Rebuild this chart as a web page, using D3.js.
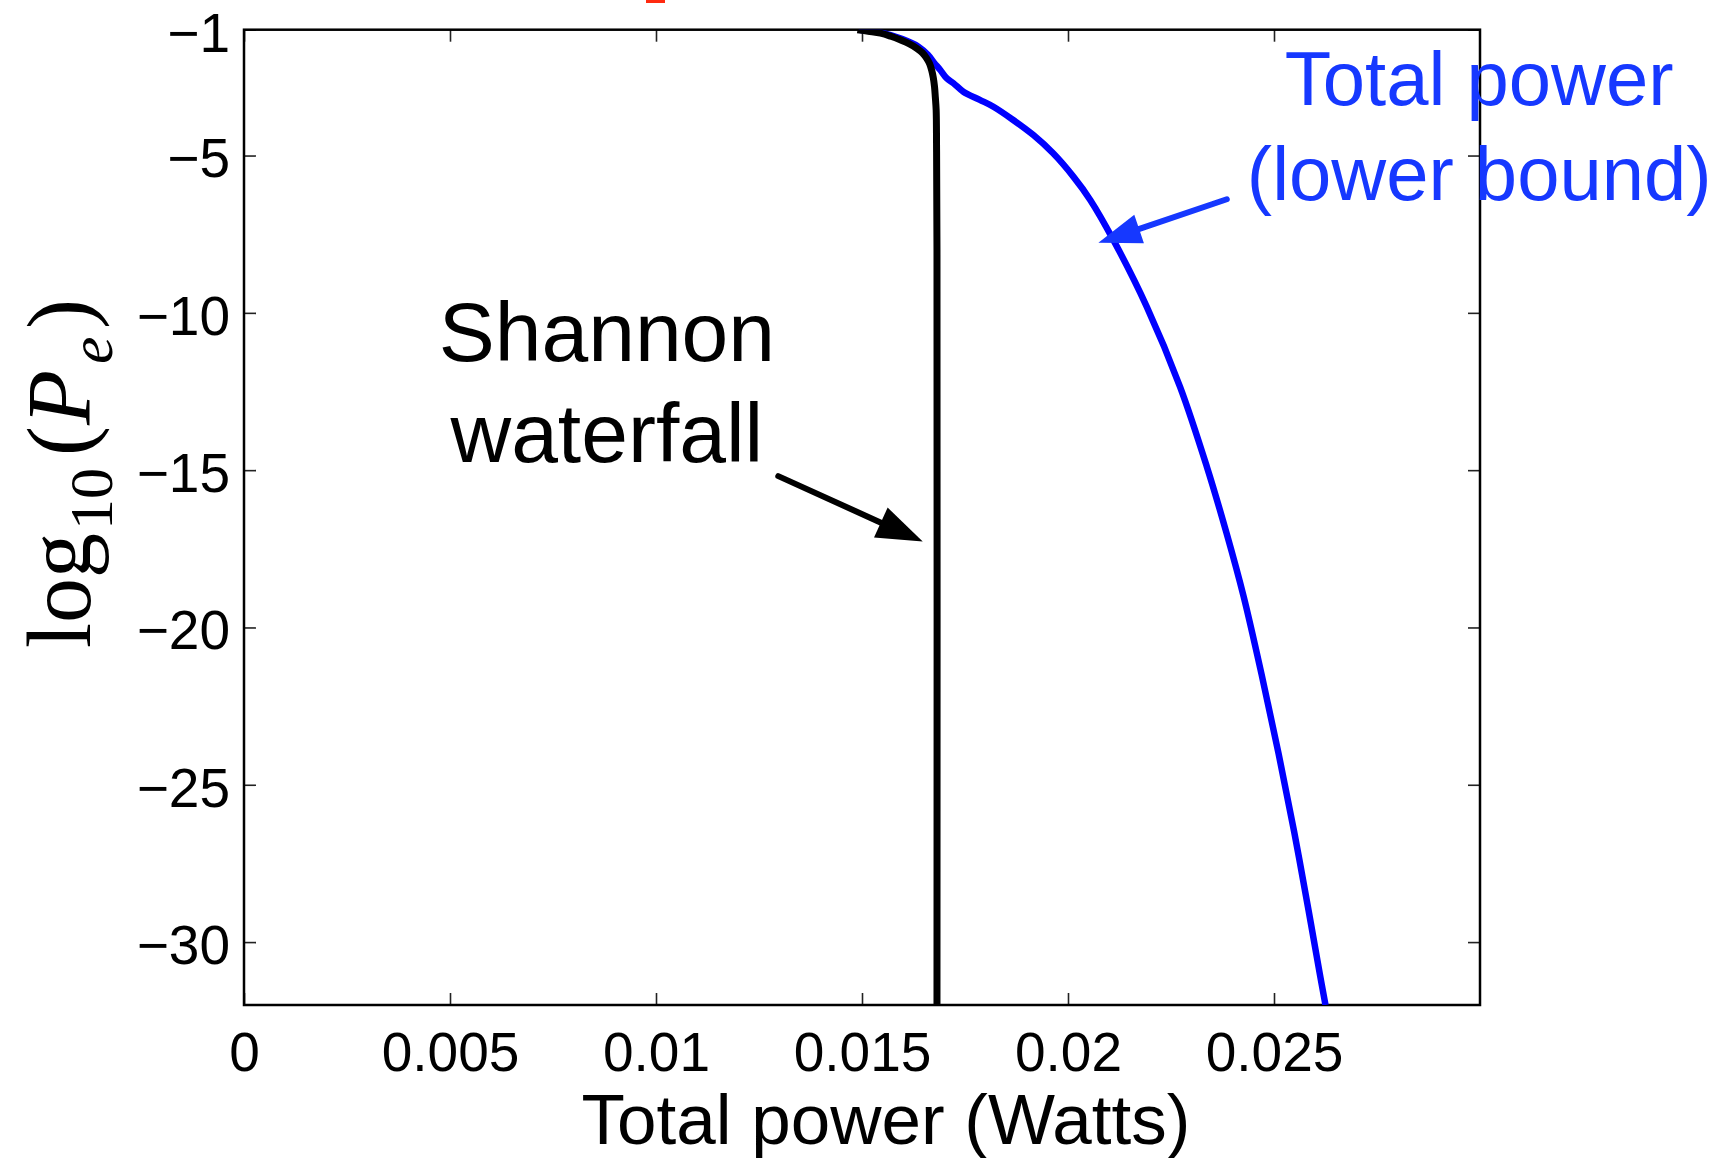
<!DOCTYPE html>
<html>
<head>
<meta charset="utf-8">
<script src="https://cdn.jsdelivr.net/npm/d3@7/dist/d3.min.js"></script>
<style>
  html, body { margin: 0; padding: 0; background: #fff; }
  svg { display: block; }
</style>
</head>
<body>
<svg id="chart" width="1724" height="1158"></svg>
<script>
// Shannon waterfall curve: total power (W) vs log10 of error probability
const shannonPower = [0.01489, 0.01515, 0.01545, 0.01570, 0.01594, 0.01615, 0.01633, 0.01647, 0.01657,
                      0.01664, 0.01669, 0.01673, 0.01676, 0.01678, 0.01680, 0.01681, 0.01682, 0.01682];
const shannonLogPe = [-1.00, -1.05, -1.11, -1.21, -1.33, -1.45, -1.59, -1.74, -1.91,
                      -2.08, -2.28, -2.52, -2.81, -3.15, -3.55, -4.82, -8.0, -32.0];

// Lower bound on total power
const boundPower = [0.01492, 0.01550, 0.01598, 0.01637, 0.01660, 0.01675, 0.01690, 0.01706, 0.01722,
                    0.01746, 0.01786, 0.01819, 0.01867, 0.01916, 0.01964, 0.02013, 0.02054, 0.02110,
                    0.02191, 0.02272, 0.02337, 0.02385, 0.02426, 0.02470, 0.02511, 0.02549, 0.02584,
                    0.02611, 0.02625];
const boundLogPe = [-1.00, -1.10, -1.30, -1.54, -1.80, -2.05, -2.28, -2.55, -2.70,
                    -2.97, -3.23, -3.45, -3.87, -4.35, -4.93, -5.67, -6.41, -7.68,
                    -9.80, -12.35, -14.89, -17.01, -19.0, -21.5, -24.0, -26.5, -29.0,
                    -31.0, -32.0];

// Axis ticks
const xTicks = [0, 0.005, 0.01, 0.015, 0.02, 0.025];
const xTickLabels = ["0", "0.005", "0.01", "0.015", "0.02", "0.025"];
const yTicks = [-1, -5, -10, -15, -20, -25, -30];
const yTickLabels = ["\u22121", "\u22125", "\u221210", "\u221215", "\u221220", "\u221225", "\u221230"];

// Annotations (in data coordinates)
const shannonLabel = ["Shannon", "waterfall"];
const shannonLabelAt = [[0.008808, -11.53], [0.008808, -14.74]];
const shannonArrow = [[0.012968, -15.19], [0.016474, -17.27]];
const boundLabel = ["Total power", "(lower bound)"];
const boundLabelAt = [[0.02998, -3.40], [0.02998, -6.42]];
const boundArrow = [[0.023854, -6.39], [0.020737, -7.77]];

const svg = d3.select("#chart");
const plot = { left: 244, right: 1480, top: 29.7, bottom: 1005 };

const x = d3.scaleLinear().domain([0, 0.03]).range([plot.left, plot.right]);
const y = d3.scaleLinear().domain([-32, -1]).range([plot.bottom, plot.top]);

const sans = "'Liberation Sans', Arial, Helvetica, sans-serif";
const blueText = "#1638ff";

svg.append("defs").append("clipPath").attr("id", "plotClip")
  .append("rect")
  .attr("x", plot.left).attr("y", plot.top)
  .attr("width", plot.right - plot.left).attr("height", plot.bottom - plot.top);

// small red fragment at the top edge
svg.append("rect").attr("x", 646).attr("y", 0).attr("width", 19).attr("height", 3).attr("fill", "#ff2a10");

// Axes with inward ticks on all four sides
const tickLen = 12;
const gx = svg.append("g").attr("transform", `translate(0,${plot.bottom})`)
  .call(d3.axisBottom(x).tickValues(xTicks).tickFormat((d, i) => xTickLabels[i])
        .tickSizeInner(-tickLen).tickSizeOuter(0).tickPadding(27));
const gy = svg.append("g").attr("transform", `translate(${plot.left},0)`)
  .call(d3.axisLeft(y).tickValues(yTicks).tickFormat((d, i) => yTickLabels[i])
        .tickSizeInner(-tickLen).tickSizeOuter(0).tickPadding(14));
svg.append("g").attr("transform", `translate(0,${plot.top})`)
  .call(d3.axisTop(x).tickValues(xTicks).tickFormat("").tickSizeInner(-tickLen).tickSizeOuter(0));
svg.append("g").attr("transform", `translate(${plot.right},0)`)
  .call(d3.axisRight(y).tickValues(yTicks).tickFormat("").tickSizeInner(-tickLen).tickSizeOuter(0));

svg.selectAll(".domain").remove();
svg.selectAll(".tick line").attr("stroke", "#222").attr("stroke-width", 1.6);
svg.selectAll(".tick text").attr("fill", "#000").attr("font-family", sans).attr("font-size", 55);
gy.selectAll(".tick text").attr("dy", "0.39em");

// frame
svg.append("rect")
  .attr("x", plot.left).attr("y", plot.top)
  .attr("width", plot.right - plot.left).attr("height", plot.bottom - plot.top)
  .attr("fill", "none").attr("stroke", "#000").attr("stroke-width", 2.5);

// curves
const smooth = d3.line().x(d => x(d[0])).y(d => y(d[1])).curve(d3.curveCatmullRom.alpha(0.5));
const curves = svg.append("g").attr("clip-path", "url(#plotClip)");
curves.append("path")
  .datum(boundPower.map((p, i) => [p, boundLogPe[i]]))
  .attr("d", smooth)
  .attr("fill", "none").attr("stroke", "#0000ff").attr("stroke-width", 6.5)
  .attr("stroke-linejoin", "round");
curves.append("path")
  .datum(shannonPower.map((p, i) => [p, shannonLogPe[i]]))
  .attr("d", smooth)
  .attr("fill", "none").attr("stroke", "#000").attr("stroke-width", 7)
  .attr("stroke-linejoin", "round");

// arrows: shaft plus filled head
function arrow(pts, color, width, headLen, headHalf) {
  const [x0, y0] = [x(pts[0][0]), y(pts[0][1])];
  const [x1, y1] = [x(pts[1][0]), y(pts[1][1])];
  const dx = x1 - x0, dy = y1 - y0, L = Math.hypot(dx, dy);
  const ux = dx / L, uy = dy / L;
  const bx = x1 - ux * headLen, by = y1 - uy * headLen;
  svg.append("line")
    .attr("x1", x0).attr("y1", y0).attr("x2", bx + ux * 2).attr("y2", by + uy * 2)
    .attr("stroke", color).attr("stroke-width", width).attr("stroke-linecap", "round");
  svg.append("path")
    .attr("d", `M${x1},${y1}L${bx - uy * headHalf},${by + ux * headHalf}L${bx + uy * headHalf},${by - ux * headHalf}Z`)
    .attr("fill", color);
}
arrow(shannonArrow, "#000", 6, 46, 16.5);
arrow(boundArrow, blueText, 6, 43, 15);

// annotation text
svg.append("g").selectAll("text").data(shannonLabel).join("text")
  .attr("x", (d, i) => x(shannonLabelAt[i][0]))
  .attr("y", (d, i) => y(shannonLabelAt[i][1]))
  .attr("text-anchor", "middle")
  .attr("font-family", sans).attr("font-size", 84).attr("fill", "#000")
  .text(d => d);
svg.append("g").selectAll("text").data(boundLabel).join("text")
  .attr("x", (d, i) => x(boundLabelAt[i][0]))
  .attr("y", (d, i) => y(boundLabelAt[i][1]))
  .attr("text-anchor", "middle")
  .attr("font-family", sans).attr("font-size", 76).attr("fill", blueText)
  .text(d => d);

// x-axis title
svg.append("text")
  .attr("x", 886).attr("y", 1144)
  .attr("text-anchor", "middle")
  .attr("font-family", sans).attr("font-size", 71).attr("fill", "#000")
  .text("Total power (Watts)");

// y-axis title: log10(Pe)
const serif = "'Liberation Serif', 'Times New Roman', serif";
const yt = svg.append("text")
  .attr("transform", "translate(90,0) rotate(-90)")
  .attr("font-family", serif).attr("font-size", 90).attr("fill", "#000");
yt.append("tspan").attr("x", -648).attr("y", 0).text("log");
yt.append("tspan").attr("x", -530).attr("y", 22).attr("font-size", 62).text("10");
yt.append("tspan").attr("x", -456).attr("y", 0).text("(");
yt.append("tspan").attr("x", -425).attr("y", 0).attr("font-style", "italic").text("P");
yt.append("tspan").attr("x", -364).attr("y", 22).attr("font-size", 62).attr("font-style", "italic").text("e");
yt.append("tspan").attr("x", -329).attr("y", 0).text(")");
</script>
</body>
</html>
